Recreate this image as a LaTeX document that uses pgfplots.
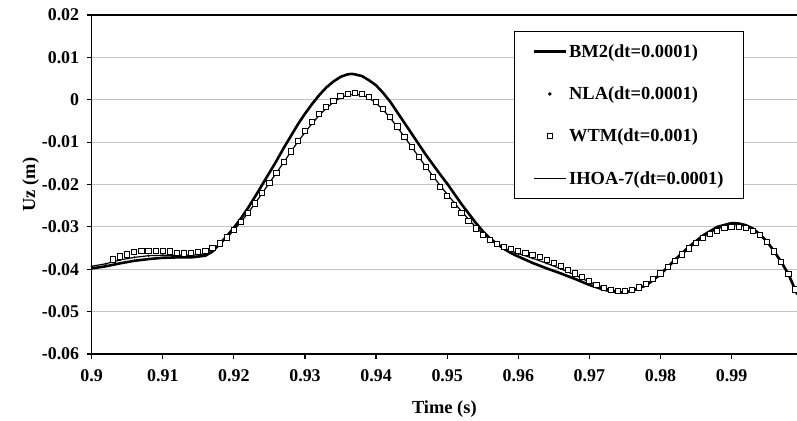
\documentclass[border=0pt]{standalone}
\usepackage{fontspec}
\setmainfont{Liberation Serif}
\usepackage{pgfplots}
\usepackage{pgfplotstable}
\pgfplotsset{compat=1.18}
\definecolor{gridgray}{HTML}{C4C4C4}

% BM2, dt=0.0001 (thick line)
\pgfplotstableread{
t v
0.900 -0.0398
0.902 -0.0393
0.904 -0.0386
0.906 -0.0380
0.908 -0.0376
0.910 -0.0373
0.912 -0.0372
0.914 -0.0372
0.916 -0.0368
0.917 -0.0358
0.918 -0.0340
0.919 -0.0322
0.920 -0.0302
0.921 -0.0280
0.922 -0.0255
0.923 -0.0228
0.924 -0.0200
0.925 -0.0172
0.926 -0.0144
0.927 -0.0114
0.928 -0.0086
0.929 -0.0058
0.930 -0.0033
0.931 -0.0010
0.932 0.0011
0.933 0.0029
0.934 0.0043
0.935 0.0054
0.936 0.0060
0.9366 0.0061
0.937 0.0060
0.938 0.0056
0.939 0.0046
0.940 0.0034
0.941 0.0016
0.942 -0.0005
0.943 -0.0030
0.944 -0.0055
0.945 -0.0080
0.946 -0.0105
0.947 -0.0130
0.948 -0.0153
0.949 -0.0176
0.950 -0.0198
0.951 -0.0222
0.952 -0.0246
0.953 -0.0268
0.954 -0.0290
0.955 -0.0310
0.956 -0.0327
0.957 -0.0340
0.958 -0.0352
0.959 -0.0362
0.960 -0.0370
0.962 -0.0385
0.964 -0.0398
0.966 -0.0410
0.968 -0.0423
0.970 -0.0437
0.972 -0.0448
0.974 -0.0455
0.975 -0.0455
0.976 -0.0451
0.978 -0.0438
0.980 -0.0412
0.982 -0.0378
0.984 -0.0347
0.986 -0.0320
0.988 -0.0300
0.990 -0.0291
0.991 -0.0292
0.992 -0.0296
0.993 -0.0304
0.994 -0.0318
0.995 -0.0335
0.996 -0.0358
0.997 -0.0383
0.998 -0.0412
0.999 -0.0450
0.9992 -0.0458
}\bmtwo

% IHOA-7 and NLA, dt=0.0001
\pgfplotstableread{
t v
0.900 -0.0393
0.902 -0.0387
0.904 -0.0378
0.906 -0.0372
0.908 -0.0368
0.910 -0.0367
0.912 -0.0367
0.914 -0.0367
0.916 -0.0364
0.917 -0.0356
0.918 -0.0342
0.919 -0.0326
0.920 -0.0308
0.921 -0.0288
0.922 -0.0267
0.923 -0.0244
0.924 -0.0220
0.925 -0.0196
0.926 -0.0172
0.927 -0.0148
0.928 -0.0123
0.929 -0.0099
0.930 -0.0077
0.931 -0.0056
0.932 -0.0037
0.933 -0.0020
0.934 -0.0006
0.935 0.0005
0.936 0.0011
0.937 0.0013
0.938 0.0011
0.939 0.0004
0.940 -0.0008
0.941 -0.0024
0.942 -0.0043
0.943 -0.0065
0.944 -0.0088
0.945 -0.0111
0.946 -0.0135
0.947 -0.0158
0.948 -0.0180
0.949 -0.0202
0.950 -0.0223
0.951 -0.0243
0.952 -0.0263
0.953 -0.0282
0.954 -0.0300
0.955 -0.0316
0.956 -0.0330
0.957 -0.0341
0.958 -0.0350
0.959 -0.0357
0.960 -0.0363
0.962 -0.0374
0.964 -0.0386
0.966 -0.0399
0.968 -0.0414
0.970 -0.0430
0.972 -0.0443
0.974 -0.0452
0.975 -0.0453
0.976 -0.0450
0.978 -0.0437
0.980 -0.0413
0.982 -0.0381
0.984 -0.0351
0.986 -0.0324
0.988 -0.0304
0.990 -0.0295
0.991 -0.0295
0.992 -0.0299
0.993 -0.0306
0.994 -0.0319
0.995 -0.0336
0.996 -0.0359
0.997 -0.0384
0.998 -0.0413
0.999 -0.0450
0.9992 -0.0458
}\ihoa

% WTM, dt=0.001 (squares)
\pgfplotstableread{
t v
0.903 -0.0377
0.904 -0.0370
0.905 -0.0365
0.906 -0.0360
0.907 -0.0357
0.908 -0.0356
0.909 -0.0356
0.910 -0.0357
0.911 -0.0358
0.912 -0.0361
0.913 -0.0363
0.914 -0.0362
0.915 -0.0360
0.916 -0.0356
0.917 -0.0350
0.918 -0.0339
0.919 -0.0325
0.920 -0.0308
0.921 -0.0289
0.922 -0.0268
0.923 -0.0245
0.924 -0.0221
0.925 -0.0197
0.926 -0.0172
0.927 -0.0147
0.928 -0.0122
0.929 -0.0097
0.930 -0.0074
0.931 -0.0053
0.932 -0.0034
0.933 -0.0017
0.934 -0.0003
0.935 0.0008
0.936 0.0014
0.937 0.0016
0.938 0.0014
0.939 0.0007
0.940 -0.0005
0.941 -0.0021
0.942 -0.0041
0.943 -0.0063
0.944 -0.0087
0.945 -0.0111
0.946 -0.0135
0.947 -0.0159
0.948 -0.0182
0.949 -0.0205
0.950 -0.0227
0.951 -0.0248
0.952 -0.0268
0.953 -0.0287
0.954 -0.0304
0.955 -0.0319
0.956 -0.0331
0.957 -0.0340
0.958 -0.0347
0.959 -0.0352
0.960 -0.0357
0.961 -0.0362
0.962 -0.0367
0.963 -0.0372
0.964 -0.0378
0.965 -0.0385
0.966 -0.0393
0.967 -0.0401
0.968 -0.0410
0.969 -0.0419
0.970 -0.0428
0.971 -0.0437
0.972 -0.0444
0.973 -0.0449
0.974 -0.0452
0.975 -0.0452
0.976 -0.0449
0.977 -0.0443
0.978 -0.0434
0.979 -0.0423
0.980 -0.0410
0.981 -0.0395
0.982 -0.0380
0.983 -0.0365
0.984 -0.0351
0.985 -0.0338
0.986 -0.0327
0.987 -0.0317
0.988 -0.0309
0.989 -0.0303
0.990 -0.0300
0.991 -0.0300
0.992 -0.0303
0.993 -0.0309
0.994 -0.0320
0.995 -0.0336
0.996 -0.0358
0.997 -0.0383
0.998 -0.0412
0.999 -0.0448
}\wtm

\begin{document}
\begin{tikzpicture}
\useasboundingbox (-91.7bp,-67bp) rectangle (705.3bp,354bp);
\begin{axis}[at={(0,0)}, anchor=south west, scale only axis,
  width=705.3bp, height=339bp,
  xmin=0.9, xmax=0.9992, ymin=-0.06, ymax=0.02,
  scaled x ticks=false, scaled y ticks=false,
  axis y line*=left, axis line style={line width=1.6bp, black},
  xtick={0.9,0.91,...,0.99}, xticklabels={0.9,0.91,0.92,0.93,0.94,0.95,0.96,0.97,0.98,0.99},
  ytick={0.02,0.01,0,-0.01,-0.02,-0.03,-0.04,-0.05,-0.06},
  yticklabels={0.02,0.01,0,-0.01,-0.02,-0.03,-0.04,-0.05,-0.06},
  tick pos=left, tick align=outside, major tick length=5bp,
  tick style={line width=1.2bp, black},
  ymajorgrids, grid style={gridgray, line width=0.8bp},
  tick label style={font=\bfseries\fontsize{18}{20}\selectfont},
  xticklabel style={yshift=-7bp}, yticklabel style={xshift=-4bp},
  xlabel={Time (s)}, ylabel={Uz (m)},
  label style={font=\bfseries\fontsize{18.5}{21}\selectfont},
  xlabel style={yshift=-12bp}, ylabel style={yshift=-4bp},
  legend cell align=left,
  legend style={at={(0.925,0.953)}, anchor=north east, draw=black, line width=1.2bp,
    fill=white, font=\bfseries\fontsize{18.5}{21}\selectfont, row sep=24bp,
    inner xsep=18bp, inner ysep=11bp},
]
\addplot[black, line width=2.6bp, legend image code/.code={\draw[black, line width=2.6bp] (0bp,0bp) -- (32bp,0bp);}] table {\bmtwo};
\addlegendentry{BM2(dt=0.0001)\hspace{53bp}}
\addplot[only marks, mark=*, mark size=0.9bp, black, legend image code/.code={\fill[black] (16bp,0bp) circle (1.1bp);}] table {\ihoa};
\addlegendentry{NLA(dt=0.0001)}
\addplot[only marks, mark=square*, mark size=2.6bp, mark options={fill=white, draw=black, line width=1bp}, legend image code/.code={\draw[fill=white, line width=1bp] (13.4bp,-2.6bp) rectangle (18.6bp,2.6bp);}] table {\wtm};
\addlegendentry{WTM(dt=0.001)}
\addplot[black, line width=1.2bp, legend image code/.code={\draw[black, line width=1.2bp] (0bp,0bp) -- (32bp,0bp);}] table {\ihoa};
\addlegendentry{IHOA-7(dt=0.0001)}
\end{axis}
\end{tikzpicture}
\end{document}
